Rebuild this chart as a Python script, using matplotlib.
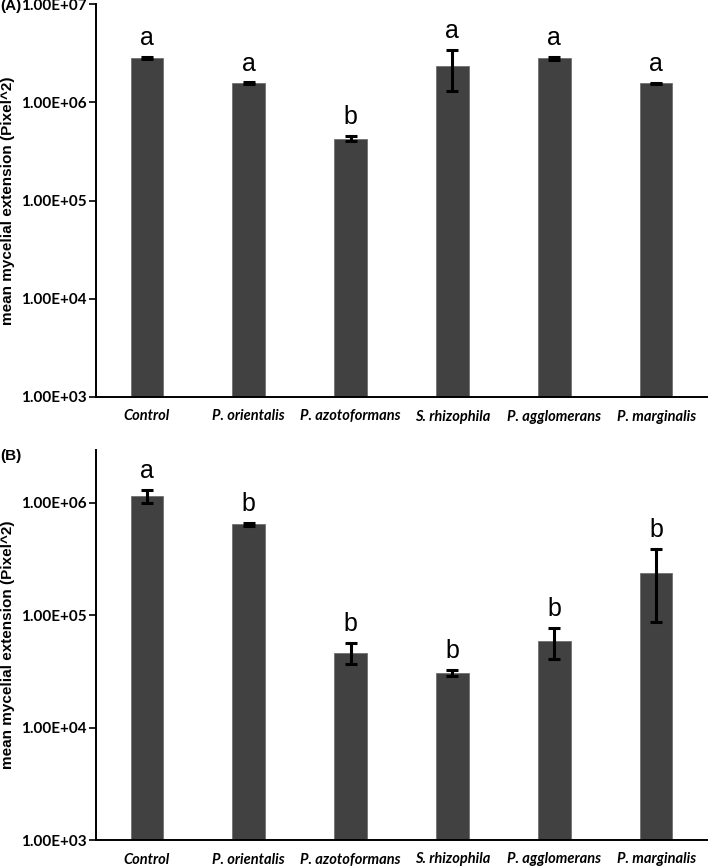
import matplotlib
matplotlib.use("Agg")
import matplotlib.pyplot as plt
import numpy as np

categories = ["Control", "P. orientalis", "P. azotoformans", "S. rhizophila",
              "P. agglomerans", "P. marginalis"]

vals_A = [2.80e6, 1.56e6, 4.26e5, 2.36e6, 2.80e6, 1.56e6]
err_A = [6.0e4, 3.0e4, 2.5e4, 1.05e6, 8.0e4, 2.5e4]
letters_A = ["a", "a", "b", "a", "a", "a"]

vals_B = [1.15e6, 6.46e5, 4.65e4, 3.05e4, 5.90e4, 2.37e5]
err_B = [1.6e5, 2.0e4, 1.0e4, 2.0e3, 1.8e4, 1.5e5]
letters_B = ["a", "b", "b", "b", "b", "b"]

yticks_A = [1e3, 1e4, 1e5, 1e6, 1e7]
yticks_B = [1e3, 1e4, 1e5, 1e6]

W, H = 709, 868
fig = plt.figure(figsize=(W / 100, H / 100), dpi=100)

def make_ax(top_px, bottom_px):
    left, right = 96, 707
    return fig.add_axes([left / W, 1 - bottom_px / H, (right - left) / W, (bottom_px - top_px) / H])

axA = make_ax(4, 397)
axB = make_ax(450, 840)

def fmt(v):
    return "%.2fE+%02d" % (1.0, int(round(np.log10(v))))

def draw(ax, vals, errs, letters, yticks, ylim, label, label_y):
    x = np.arange(len(categories))
    ax.bar(x, vals, width=0.32, color="#414141", edgecolor="#707070", linewidth=0.6, zorder=2)
    ax.errorbar(x, vals, yerr=errs, fmt="none", ecolor="black", elinewidth=2.2,
                capsize=4, capthick=2.2, zorder=3)
    ax.set_yscale("log")
    ax.set_ylim(*ylim)
    ax.set_xlim(-0.5, len(categories) - 0.5)
    ax.set_yticks(yticks)
    ax.set_yticklabels([fmt(v) for v in yticks], fontfamily="Lato", fontweight="bold", fontsize=11)
    ax.yaxis.set_minor_locator(matplotlib.ticker.NullLocator())
    ax.set_xticks(x)
    ax.set_xticklabels(categories, fontfamily="Lato", fontweight="bold", fontstyle="italic", fontsize=10.5)
    ax.tick_params(axis="x", length=0, pad=9)
    ax.tick_params(axis="y", direction="out", length=5, width=1.2, pad=2)
    for s in ["top", "right"]:
        ax.spines[s].set_visible(False)
    for s in ["left", "bottom"]:
        ax.spines[s].set_linewidth(1.4)
    ax.set_ylabel("mean mycelial extension (Pixel^2)", fontfamily="Liberation Sans",
                  fontweight="bold", fontsize=11)
    ax.yaxis.set_label_coords(-0.132, 0.5)
    for xi, v, e, l in zip(x, vals, errs, letters):
        ax.annotate(l, (xi, v + e), xytext=(0, 5), textcoords="offset points",
                    ha="center", va="bottom", fontfamily="Liberation Sans", fontsize=18)
    ax.text(-0.157, label_y, label, transform=ax.transAxes, fontfamily="Liberation Sans",
            fontweight="bold", fontsize=11, ha="left", va="center")

draw(axA, vals_A, err_A, letters_A, yticks_A, (1e3, 1e7), "(A)", 0.995)
draw(axB, vals_B, err_B, letters_B, yticks_B, (1e3, 2.95e6), "(B)", 0.985)

fig.savefig("out.png", dpi=100)
